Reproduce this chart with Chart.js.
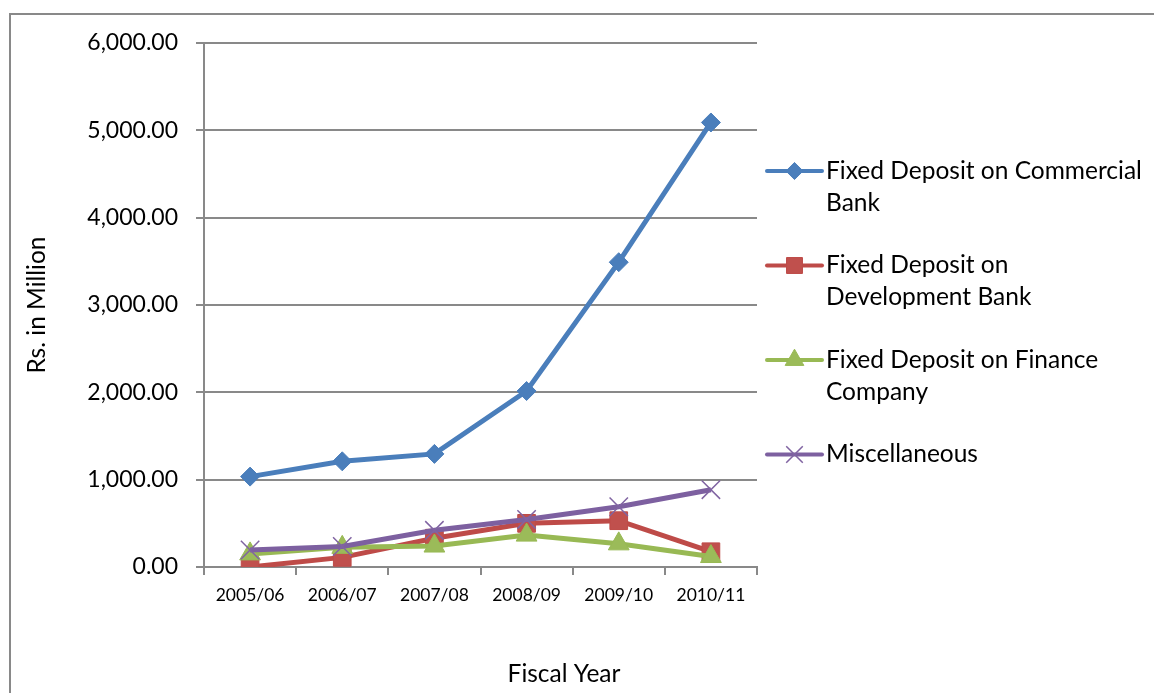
<!DOCTYPE html>
<html>
<head>
<meta charset="utf-8">
<script src="https://cdn.jsdelivr.net/npm/chart.js@4/dist/chart.umd.min.js"></script>
<style>
  html, body { margin: 0; padding: 0; background: #ffffff; }
  canvas { display: block; }
</style>
</head>
<body>
<canvas id="chart" width="1154" height="693"></canvas>
<script>
// Fiscal years on the category axis
const fiscalYears = ["2005/06", "2006/07", "2007/08", "2008/09", "2009/10", "2010/11"];

// Investment amounts, Rs. in million
const commercialBank = [1035, 1210, 1295, 2015, 3490, 5090];
const developmentBank = [0, 110, 330, 500, 530, 175];
const financeCompany = [150, 225, 240, 365, 265, 120];
const miscellaneous = [195, 235, 420, 545, 690, 885];

// Legend captions, already broken into lines
const seriesNames = [
  ["Fixed Deposit on Commercial", "Bank"],
  ["Fixed Deposit on", "Development Bank"],
  ["Fixed Deposit on Finance", "Company"],
  ["Miscellaneous"]
];

const yTicks = { min: 0, max: 6000, step: 1000 };

const FONT = "Lato, 'Open Sans', sans-serif";
const GRID = "#898989";

function series(idx, data, color, fill, style, radius, order) {
  return {
    label: seriesNames[idx].join(" "),
    data: data,
    borderColor: color,
    backgroundColor: fill,
    borderWidth: 5,
    pointStyle: style,
    pointRadius: radius,
    pointHoverRadius: radius,
    pointBackgroundColor: fill,
    pointBorderColor: style === "crossRot" ? fill : color,
    pointBorderWidth: style === "crossRot" ? 1.5 : 1,
    tension: 0,
    order: order
  };
}

// Frame, x-axis title and the wrapped legend on the right
const decorations = {
  id: "decorations",
  beforeDraw(chart) {
    const ctx = chart.ctx;
    ctx.save();
    ctx.strokeStyle = GRID;
    ctx.lineWidth = 2;
    ctx.beginPath();
    ctx.moveTo(10, 693);
    ctx.lineTo(10, 14);
    ctx.lineTo(1154, 14);
    ctx.stroke();
    ctx.restore();
  },
  afterDraw(chart) {
    const ctx = chart.ctx;
    ctx.save();
    ctx.fillStyle = "#000000";
    ctx.font = "24.5px " + FONT;
    ctx.textAlign = "center";
    ctx.textBaseline = "middle";
    ctx.fillText("Fiscal Year", 564, 674);

    const lineX0 = 767, lineX1 = 822, textX = 826;
    const firstY = 171, itemGap = 94.5, lineGap = 32;
    chart.data.datasets.forEach((ds, i) => {
      const y = firstY + i * itemGap;
      ctx.strokeStyle = ds.borderColor;
      ctx.lineWidth = 4;
      ctx.lineCap = "round";
      ctx.beginPath();
      ctx.moveTo(lineX0, y);
      ctx.lineTo(lineX1, y);
      ctx.stroke();
      ctx.lineCap = "butt";
      ctx.fillStyle = ds.pointBackgroundColor;
      ctx.strokeStyle = ds.pointBorderColor;
      ctx.lineWidth = ds.pointBorderWidth;
      Chart.helpers.drawPoint(ctx, {
        pointStyle: ds.pointStyle,
        radius: ds.pointRadius * 0.9,
        rotation: 0,
        borderWidth: ds.pointBorderWidth
      }, (lineX0 + lineX1) / 2, y);
      ctx.fillStyle = "#000000";
      ctx.textAlign = "left";
      ctx.textBaseline = "middle";
      ctx.font = "24.5px " + FONT;
      seriesNames[i].forEach((line, k) => {
        ctx.fillText(line, textX, y + k * lineGap);
      });
    });
    ctx.restore();
  }
};

new Chart(document.getElementById("chart"), {
  type: "line",
  data: {
    labels: fiscalYears,
    datasets: [
      series(0, commercialBank, "#4A7EBB", "#4A7EBB", "rectRot", 9.5, 3),
      series(1, developmentBank, "#BE4B48", "#C0504D", "rect", 12.5, 2),
      series(2, financeCompany, "#98B954", "#9BBB59", "triangle", 12, 1),
      series(3, miscellaneous, "#7D60A0", "#8064A2", "crossRot", 13, 0)
    ]
  },
  options: {
    responsive: false,
    animation: false,
    layout: { padding: { left: 10, right: 397, top: 43, bottom: 0 } },
    plugins: {
      legend: { display: false },
      tooltip: { enabled: false }
    },
    scales: {
      x: {
        offset: true,
        grid: {
          offset: true,
          drawOnChartArea: false,
          drawTicks: true,
          tickLength: 8,
          color: GRID,
          lineWidth: 2
        },
        border: { display: true, color: GRID, width: 2 },
        ticks: {
          color: "#000000",
          padding: 10,
          maxRotation: 0,
          font: { family: FONT, size: 17.5 }
        },
        afterFit(scale) { scale.height = 126; }
      },
      y: {
        min: yTicks.min,
        max: yTicks.max,
        grid: {
          color: GRID,
          lineWidth: 2,
          drawTicks: true,
          tickLength: 8
        },
        border: { display: true, color: GRID, width: 2 },
        ticks: {
          stepSize: yTicks.step,
          color: "#000000",
          padding: 18,
          font: { family: FONT, size: 23 },
          callback: (v) => Number(v).toLocaleString("en-US", { minimumFractionDigits: 2, maximumFractionDigits: 2 })
        },
        title: {
          display: true,
          text: "Rs. in Million",
          color: "#000000",
          padding: { top: 12, bottom: 0 },
          font: { family: FONT, size: 24.5 }
        },
        afterFit(scale) { scale.width = 194; }
      }
    }
  },
  plugins: [decorations]
});
</script>
</body>
</html>
